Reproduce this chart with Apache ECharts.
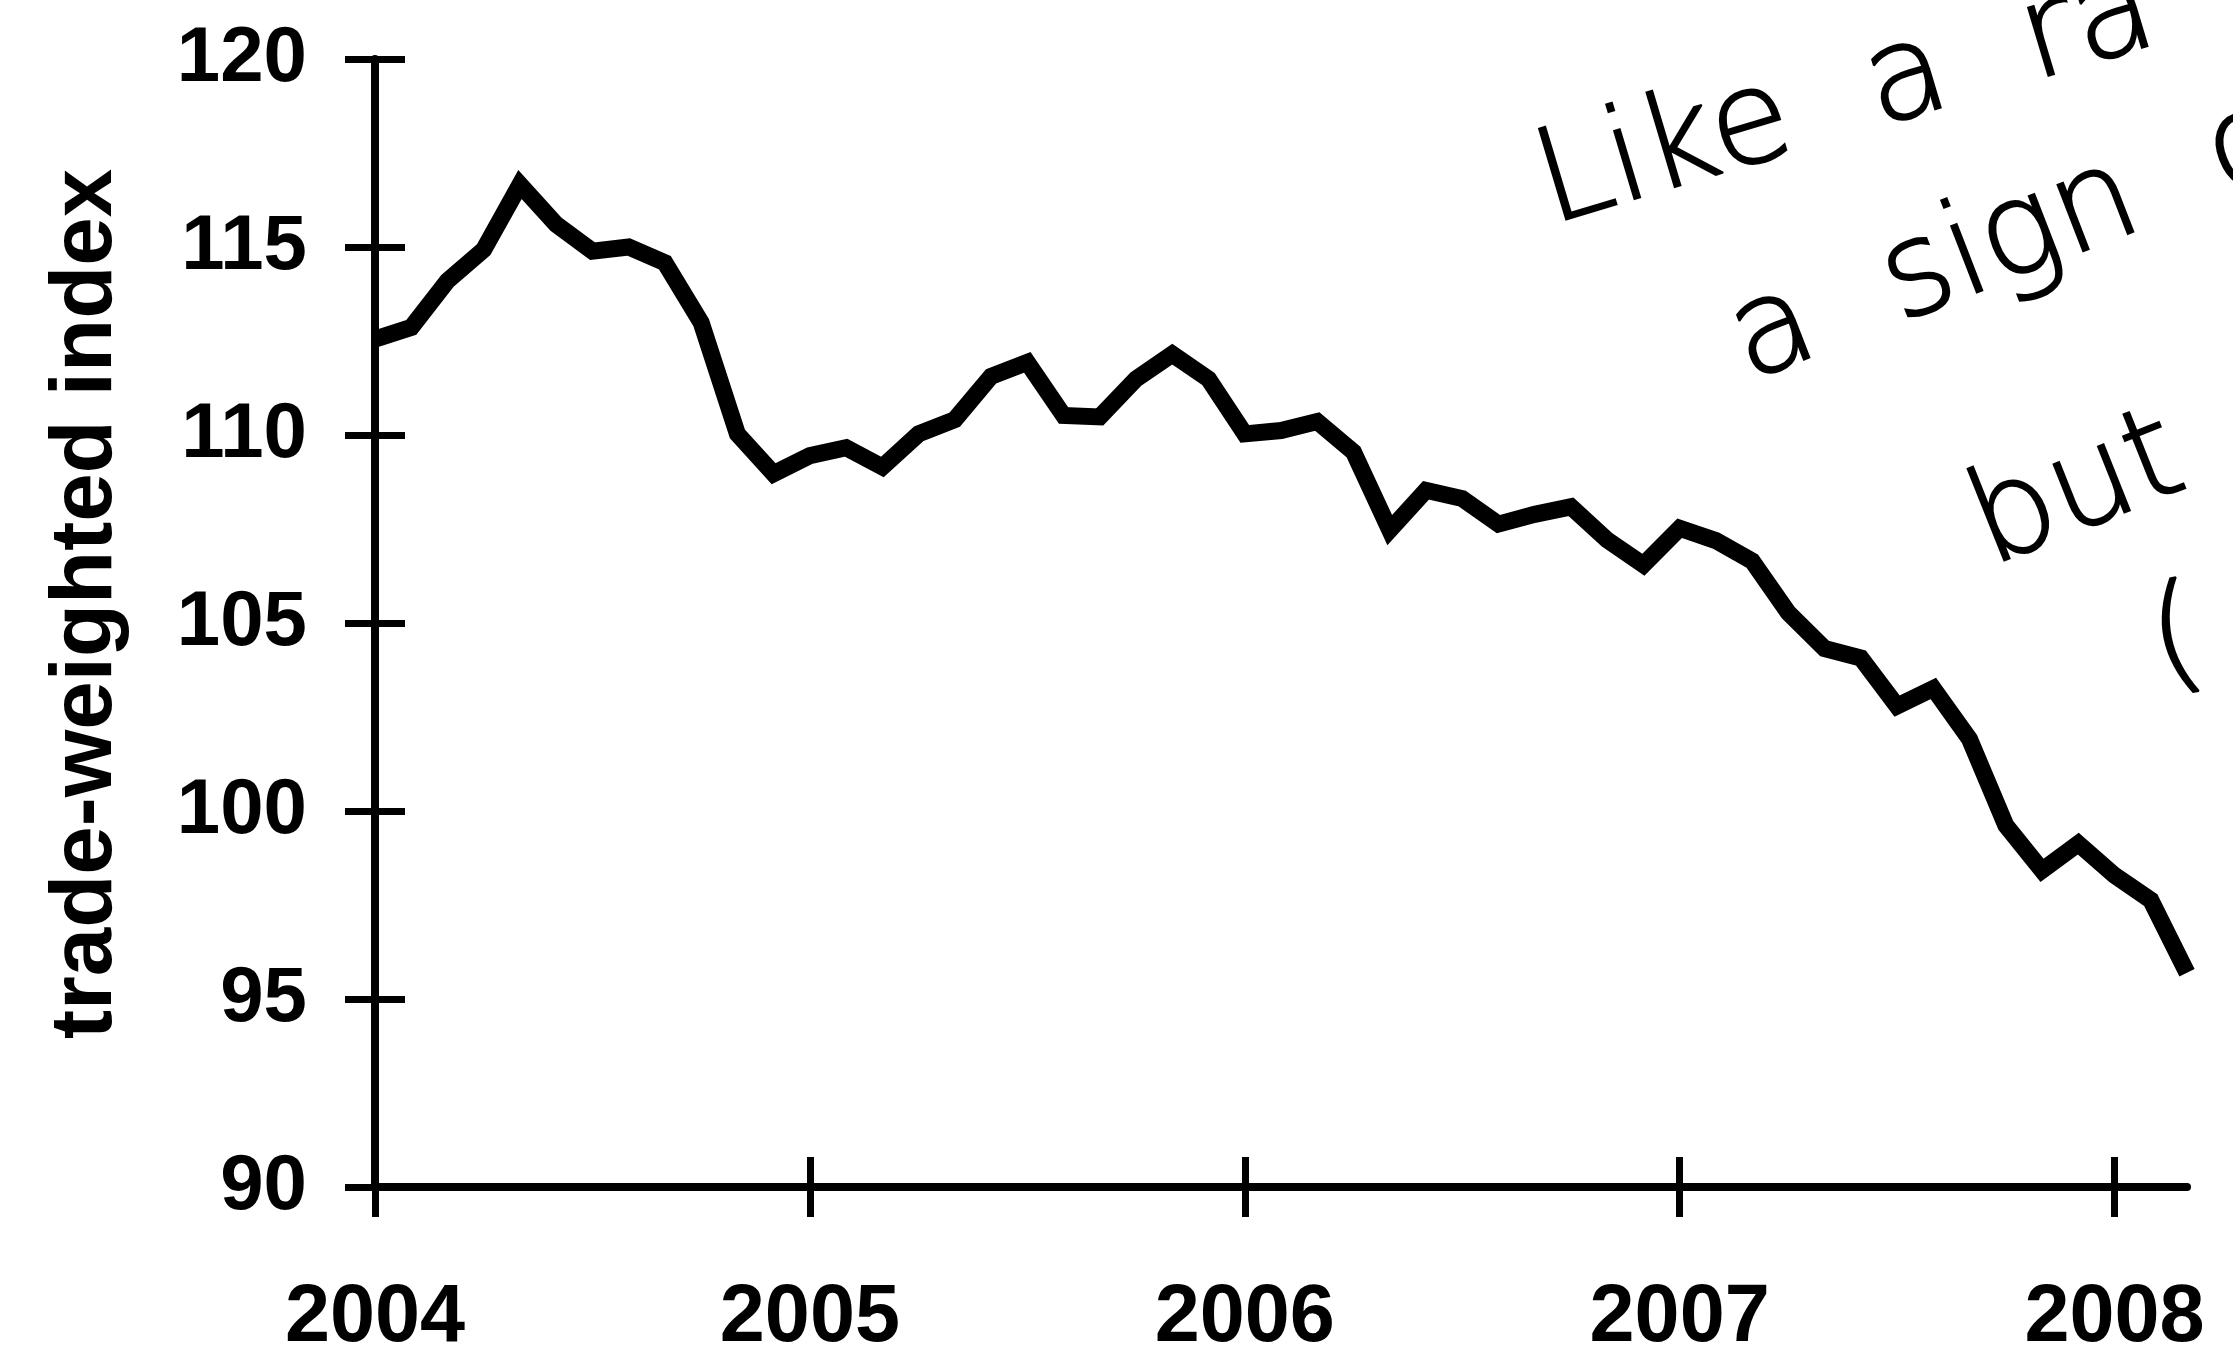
<!DOCTYPE html>
<html>
<head>
<meta charset="utf-8">
<script src="https://cdn.jsdelivr.net/npm/echarts@6/dist/echarts.min.js"></script>
<style>
  html, body { margin: 0; padding: 0; background: #fff; }
  #chart { width: 2233px; height: 1359px; }
</style>
</head>
<body>
<div id="chart"></div>
<script>
// monthly points, Jan 2004 .. Mar 2008
const months = [
  '2004-01', '2004-02', '2004-03', '2004-04', '2004-05', '2004-06', '2004-07', '2004-08', '2004-09', '2004-10', '2004-11', '2004-12',
  '2005-01', '2005-02', '2005-03', '2005-04', '2005-05', '2005-06', '2005-07', '2005-08', '2005-09', '2005-10', '2005-11', '2005-12',
  '2006-01', '2006-02', '2006-03', '2006-04', '2006-05', '2006-06', '2006-07', '2006-08', '2006-09', '2006-10', '2006-11', '2006-12',
  '2007-01', '2007-02', '2007-03', '2007-04', '2007-05', '2007-06', '2007-07', '2007-08', '2007-09', '2007-10', '2007-11', '2007-12',
  '2008-01', '2008-02', '2008-03',
]
const tradeWeighted = [
  112.55, 112.86, 114.1, 114.93, 116.66, 115.6, 114.89, 115.0, 114.58, 112.99, 110.03, 108.97,
  109.45, 109.66, 109.15, 110.03, 110.41, 111.56, 111.93, 110.52, 110.48, 111.49, 112.15, 111.49,
  110.03, 110.12, 110.36, 109.55, 107.47, 108.53, 108.31, 107.63, 107.89, 108.09, 107.21, 106.55,
  107.52, 107.19, 106.65, 105.27, 104.32, 104.07, 102.79, 103.26, 101.91, 99.62, 98.42, 99.13,
  98.29, 97.63, 95.7,
]
const yearTicks = ['2004-01', '2005-01', '2006-01', '2007-01', '2008-01']
const notes = ['Like  a  ra', 'a  sign  of', 'but', '(']

const myChart = echarts.init(document.getElementById('chart'))

const labelFont = {
  color: '#000',
  fontFamily: 'Liberation Sans, Arial, sans-serif',
  fontWeight: 'bold',
}
const isYear = (idx, val) => yearTicks.indexOf(val) >= 0

// handwritten scribble in the top right corner
const handStyle = {
  fill: '#000',
  stroke: '#000',
  lineWidth: 2,
  fontFamily: 'DejaVu Sans, sans-serif',
  fontWeight: 200,
  fontSize: 130,
  textAlign: 'left',
  textVerticalAlign: 'bottom',
}

const options = {
  backgroundColor: '#fff',
  animation: false,
  grid: { left: 375, right: 46, top: 59, bottom: 168 },
  xAxis: [
    {
      type: 'category',
      data: months,
      boundaryGap: false,
      position: 'bottom',
      axisLine: { lineStyle: { color: '#000', width: 8 } },
      axisTick: { interval: isYear, length: 30, lineStyle: { color: '#000', width: 7 } },
      axisLabel: {
        interval: isYear,
        formatter: (v) => v.slice(0, 4),
        fontSize: 81,
        margin: 91,
        ...labelFont,
      },
      splitLine: { show: false },
    },
    {
      // inner half of the crossing ticks
      type: 'category',
      data: months,
      boundaryGap: false,
      position: 'bottom',
      axisLine: { show: false },
      axisTick: { inside: true, interval: isYear, length: 30, lineStyle: { color: '#000', width: 7 } },
      axisLabel: { show: false },
      splitLine: { show: false },
    },
  ],
  yAxis: [
    {
      type: 'value',
      min: 90,
      max: 120,
      interval: 5,
      position: 'left',
      name: 'trade-weighted index',
      nameLocation: 'middle',
      nameRotate: 90,
      nameGap: 244,
      nameTextStyle: { fontSize: 87, padding: [0, 0, 0, 38], ...labelFont },
      axisLine: { show: true, lineStyle: { color: '#000', width: 8 } },
      axisTick: { show: true, length: 30, lineStyle: { color: '#000', width: 7 } },
      axisLabel: { fontSize: 78, margin: 68, ...labelFont },
      splitLine: { show: false },
    },
    {
      type: 'value',
      min: 90,
      max: 120,
      interval: 5,
      position: 'left',
      axisLine: { show: false },
      axisTick: { show: true, inside: true, length: 30, lineStyle: { color: '#000', width: 7 } },
      axisLabel: { show: false },
      splitLine: { show: false },
    },
  ],
  series: [
    {
      type: 'line',
      data: tradeWeighted,
      showSymbol: false,
      z: 3,
      lineStyle: { color: '#000', width: 17, join: 'miter', cap: 'butt' },
    },
  ],
  graphic: [
    { type: 'text', x: 1560, y: 254, rotation: 0.29, style: { text: notes[0], ...handStyle } },
    { type: 'text', x: 1760, y: 410, rotation: 0.37, style: { text: notes[1], ...handStyle } },
    { type: 'text', x: 2002, y: 595, rotation: 0.38, style: { text: notes[2], ...handStyle } },
    { type: 'text', x: 2165, y: 712, rotation: 0.2, style: { text: notes[3], ...handStyle } },
  ],
}

myChart.setOption(options)
</script>
</body>
</html>
